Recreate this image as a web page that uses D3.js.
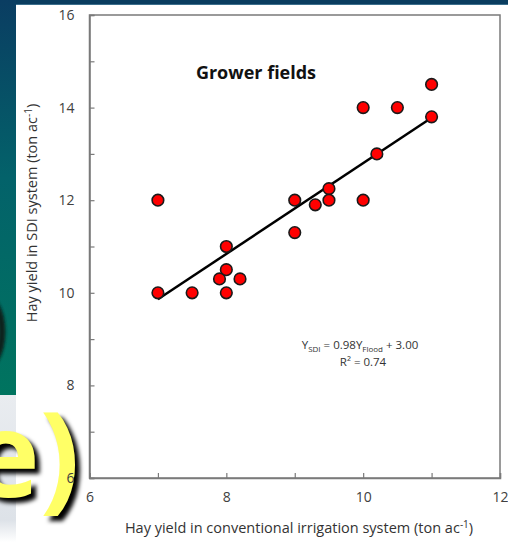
<!DOCTYPE html>
<html><head><meta charset="utf-8">
<script src="https://cdn.jsdelivr.net/npm/d3@7"></script>
<style>body{margin:0;background:#fff}svg{display:block}</style>
</head><body>
<script>
// Data
const floodYield = [7, 7, 7.5, 8, 7.9, 8, 8.2, 8, 9, 9, 9.3, 9.5, 9.5, 10, 10, 10.2, 10.5, 11, 11];
const sdiYield   = [12, 10, 10, 10, 10.3, 10.5, 10.3, 11, 12, 11.3, 11.9, 12.25, 12, 12, 14, 13, 14, 14.5, 13.8];
const fitSlope = 0.98, fitIntercept = 3.00, fitRange = [7, 11];
const xTicks = [6, 7, 8, 9, 10, 11, 12];
const yTicks = [6, 7, 8, 9, 10, 11, 12, 13, 14, 15, 16];
const chartTitle = "Grower fields";
const xTitle = "Hay yield in conventional irrigation system (ton ac";
const yTitle = "Hay yield in SDI system (ton ac";

const W = 508, H = 542;
const svg = d3.select("body").append("svg").attr("width", W).attr("height", H);
const defs = svg.append("defs");
const g1 = defs.append("linearGradient").attr("id","side").attr("x1",0).attr("y1",0).attr("x2",0).attr("y2",1);
g1.append("stop").attr("offset","0").attr("stop-color","#0a3d62");
g1.append("stop").attr("offset","0.45").attr("stop-color","#03626a");
g1.append("stop").attr("offset","1").attr("stop-color","#00745f");
const g2 = defs.append("linearGradient").attr("id","side2").attr("x1",0).attr("y1",0).attr("x2",0).attr("y2",1);
g2.append("stop").attr("offset","0").attr("stop-color","#e9ecf0");
g2.append("stop").attr("offset","0.85").attr("stop-color","#dde2e8");
g2.append("stop").attr("offset","1").attr("stop-color","#ffffff");
const blur = defs.append("filter").attr("id","blur").attr("x","-20%").attr("y","-20%").attr("width","140%").attr("height","140%");
blur.append("feGaussianBlur").attr("stdDeviation",2);
const blur2 = defs.append("filter").attr("id","blur2").attr("x","-50%").attr("y","-50%").attr("width","200%").attr("height","200%");
blur2.append("feGaussianBlur").attr("stdDeviation",1.5);
defs.append("clipPath").attr("id","stripClip").append("rect").attr("x",0).attr("y",0).attr("width",16).attr("height",395);

svg.append("rect").attr("width",W).attr("height",H).attr("fill","#fff");
svg.append("rect").attr("x",0).attr("y",0).attr("width",W).attr("height",5).attr("fill","#0a3d5f");
svg.append("rect").attr("x",0).attr("y",4).attr("width",W).attr("height",1).attr("fill","#3b6e8c");
svg.append("rect").attr("x",0).attr("y",0).attr("width",16).attr("height",395).attr("fill","url(#side)");
svg.append("rect").attr("x",0).attr("y",395).attr("width",16).attr("height",147).attr("fill","url(#side2)");
// dark shadow blob on left strip
svg.append("g").attr("clip-path","url(#stripClip)")
  .append("ellipse").attr("cx",-22).attr("cy",332).attr("rx",24).attr("ry",40)
  .attr("fill","none").attr("stroke","#08201c").attr("stroke-width",7).attr("filter","url(#blur2)");

// big decorative "e)"
const big = svg.append("g");
big.append("text").attr("x",-30+5).attr("y",497+5).text("e)")
  .attr("font-family","Open Sans, sans-serif").attr("font-weight",700).attr("font-size",118)
  .attr("fill","#000").attr("filter","url(#blur)");
big.append("text").attr("x",-30).attr("y",497).text("e)")
  .attr("font-family","Open Sans, sans-serif").attr("font-weight",700).attr("font-size",118)
  .attr("fill","#ffff66");

const x = d3.scaleLinear().domain([6,12]).range([89.5,500]);
const y = d3.scaleLinear().domain([6,16]).range([478,15]);

const font = "Open Sans, sans-serif";
const axisColor = "#7a7a7a";

// frame
svg.append("rect").attr("x",x(6)).attr("y",y(16)).attr("width",x(12)-x(6)).attr("height",y(6)-y(16))
  .attr("fill","none").attr("stroke",axisColor).attr("stroke-width",1.5);

const xAxis = svg.append("g").attr("transform",`translate(0,${y(6)})`)
  .call(d3.axisBottom(x).tickValues(xTicks).tickSize(-5).tickPadding(14).tickFormat(d => d % 2 === 0 ? d : ""));
const yAxis = svg.append("g").attr("transform",`translate(${x(6)},0)`)
  .call(d3.axisLeft(y).tickValues(yTicks).tickSize(-5).tickPadding(15).tickFormat(d => d % 2 === 0 ? d : ""));
[xAxis,yAxis].forEach(a => {
  a.select(".domain").attr("stroke",axisColor).attr("stroke-width",1.5);
  a.selectAll(".tick line").attr("stroke",axisColor).attr("stroke-width",1.2);
  a.selectAll(".tick text").attr("font-family",font).attr("font-size",14).attr("fill","#404040");
});

// fit line
svg.append("line")
  .attr("x1",x(fitRange[0])).attr("y1",y(fitSlope*fitRange[0]+fitIntercept))
  .attr("x2",x(fitRange[1])).attr("y2",y(fitSlope*fitRange[1]+fitIntercept))
  .attr("stroke","#000").attr("stroke-width",2.5);

// points
svg.append("g").selectAll("circle").data(floodYield.map((v,i)=>[v,sdiYield[i]])).join("circle")
  .attr("cx",d=>x(d[0])).attr("cy",d=>y(d[1])).attr("r",5.8)
  .attr("fill","#ff0000").attr("stroke","#1a1a1a").attr("stroke-width",1.6);

// title
svg.append("text").attr("x",256).attr("y",79).attr("text-anchor","middle")
  .attr("font-family",font).attr("font-weight",700).attr("font-size",18).attr("fill","#111").text(chartTitle);

// equation
const eq = svg.append("text").attr("x",360).attr("y",349).attr("text-anchor","middle")
  .attr("font-family",font).attr("font-size",11.5).attr("fill","#333");
eq.append("tspan").text("Y");
eq.append("tspan").attr("font-size",8).attr("dy",3).text("SDI");
eq.append("tspan").attr("dy",-3).text(" = 0.98Y");
eq.append("tspan").attr("font-size",8).attr("dy",3).text("Flood");
eq.append("tspan").attr("dy",-3).text(" + 3.00");
svg.append("text").attr("x",363).attr("y",366).attr("text-anchor","middle")
  .attr("font-family",font).attr("font-size",11.5).attr("fill","#333").text("R² = 0.74");

// axis titles
const xt = svg.append("text").attr("x",299).attr("y",533).attr("text-anchor","middle")
  .attr("font-family",font).attr("font-size",14.5).attr("fill","#333");
xt.append("tspan").text(xTitle);
xt.append("tspan").attr("font-size",10).attr("dy",-5).text("-1");
xt.append("tspan").attr("dy",5).text(")");

const yt = svg.append("text").attr("transform","translate(37,213) rotate(-90)").attr("text-anchor","middle")
  .attr("font-family",font).attr("font-size",14.5).attr("fill","#333");
yt.append("tspan").text(yTitle);
yt.append("tspan").attr("font-size",10).attr("dy",-5).text("-1");
yt.append("tspan").attr("dy",5).text(")");
</script>
</body></html>
